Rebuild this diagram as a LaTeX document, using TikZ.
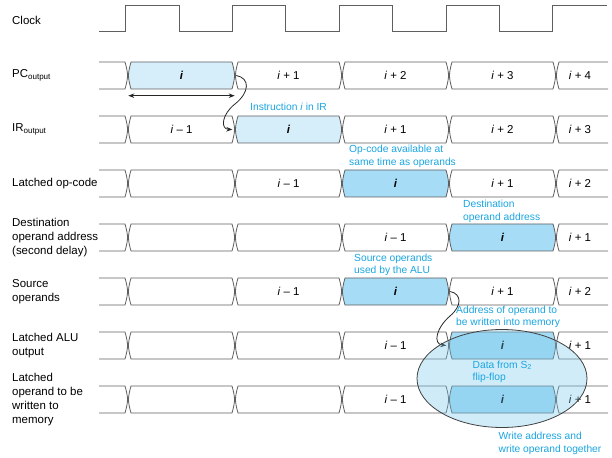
\documentclass[tikz,border=0pt]{standalone}
\usepackage{fontspec}
\setmainfont{Liberation Sans}
\usetikzlibrary{arrows.meta}
\definecolor{linegray}{RGB}{95,95,95}
\definecolor{fetchblue}{RGB}{214,238,250}
\definecolor{stageblue}{RGB}{166,220,245}
\definecolor{noteblue}{RGB}{25,165,225}
\definecolor{ringblue}{RGB}{120,200,235}
\newcommand{\instr}{\textit{i}}
\newcommand{\instrb}{\textbf{\textit{i}}}
% one bus cell: [fill]{name}{left}{right}{top}{text}
\newcommand{\buscell}[6][white]{%
  \filldraw[sigline,fill=#1]
    (#3+2.5,#5) -- (#4-2.5,#5)
    .. controls (#4-0.8,#5+6) and (#4,#5+10) .. (#4,#5+13.5)
    .. controls (#4,#5+17) and (#4-0.8,#5+21) .. (#4-2.5,#5+27)
    -- (#3+2.5,#5+27)
    .. controls (#3+0.8,#5+21) and (#3,#5+17) .. (#3,#5+13.5)
    .. controls (#3,#5+10) and (#3+0.8,#5+6) .. cycle;
  \node[celltext,minimum width={(#4-#3)*1bp}] (#2) at ({(#3+#4)/2},#5+13.5) {#6};
}
\tikzset{
  sigline/.style={draw=linegray,line width=0.8bp},
  celltext/.style={inner sep=0pt,minimum height=27bp,font=\fontsize{11.5}{14}\selectfont},
  rowlabel/.style={anchor=west,align=left,inner sep=0pt,font=\fontsize{11.5}{14.3}\selectfont},
  note/.style={anchor=west,align=left,inner sep=0pt,text=noteblue,font=\fontsize{10.3}{12.7}\selectfont},
  stagearrow/.style={-{Stealth[length=6bp,width=4.5bp]},line width=0.8bp,draw=black!85},
  spanarrow/.style={{Stealth[length=6bp,width=4.5bp]}-{Stealth[length=6bp,width=4.5bp]},line width=0.8bp,draw=black!85},
  ring/.style={draw=black!75,line width=0.8bp,fill=ringblue,fill opacity=0.35}
}

\begin{document}
\begin{tikzpicture}[x=1bp,y=-1bp]
  \useasboundingbox (0,0) rectangle (612,458);

  % row labels
  \node[rowlabel] (clocklbl) at (12,20) {Clock};
  \node[rowlabel] (pclbl) at (12,75.5) {PC\textsubscript{output}};
  \node[rowlabel] (irlbl) at (12,129.5) {IR\textsubscript{output}};
  \node[rowlabel] (oplbl) at (12,183.5) {Latched op-code};
  \node[rowlabel] (dstlbl) at (12,237.5) {Destination\\operand address\\(second delay)};
  \node[rowlabel] (srclbl) at (12,291.5) {Source\\operands};
  \node[rowlabel] (alulbl) at (12,345.5) {Latched ALU\\output};
  \node[rowlabel] (memlbl) at (12,399.5) {Latched\\operand to be\\written to\\memory};

  % clock
  \draw[sigline] (99,31)
    \foreach \k in {0,...,3} {
      -- ({125.5+106.8*\k},31) -- ({125.5+106.8*\k},5)
      -- ({178.9+106.8*\k},5) -- ({178.9+106.8*\k},31)
    }
    -- (552.7,31) -- (552.7,5) -- (607,5);

  % open cells at both ends of each row
  \foreach \r/\t/\txt in {pc/62/{\instr{} + 4}, ir/116/{\instr{} + 3}, op/170/{\instr{} + 2},
      dst/224/{\instr{} + 1}, src/278/{\instr{} + 2}, alu/332/{\instr{} + 1}, mem/386/{\instr{} + 1}} {
    \draw[sigline] (99,\t) -- (125,\t) .. controls (126.7,\t+6) and (127.5,\t+10) .. (127.5,\t+13.5)
      .. controls (127.5,\t+17) and (126.7,\t+21) .. (125,\t+27) -- (99,\t+27);
    \draw[sigline] (608,\t) -- (559,\t) .. controls (557.3,\t+6) and (556.5,\t+10) .. (556.5,\t+13.5)
      .. controls (556.5,\t+17) and (557.3,\t+21) .. (559,\t+27) -- (608,\t+27);
    \node[celltext] (\r6) at (580,\t+13.5) {\txt};
  }

  % PC output
  \buscell[fetchblue]{pc2}{128.5}{234.5}{62}{\instrb}
  \buscell{pc3}{235.5}{341.5}{62}{\instr{} + 1}
  \buscell{pc4}{342.5}{448.5}{62}{\instr{} + 2}
  \buscell{pc5}{449.5}{555.5}{62}{\instr{} + 3}
  % IR output
  \buscell{ir2}{128.5}{234.5}{116}{\instr{} \textendash{} 1}
  \buscell[fetchblue]{ir3}{235.5}{341.5}{116}{\instrb}
  \buscell{ir4}{342.5}{448.5}{116}{\instr{} + 1}
  \buscell{ir5}{449.5}{555.5}{116}{\instr{} + 2}
  % latched op-code
  \buscell{op2}{128.5}{234.5}{170}{}
  \buscell{op3}{235.5}{341.5}{170}{\instr{} \textendash{} 1}
  \buscell[stageblue]{op4}{342.5}{448.5}{170}{\instrb}
  \buscell{op5}{449.5}{555.5}{170}{\instr{} + 1}
  % destination operand address
  \buscell{dst2}{128.5}{234.5}{224}{}
  \buscell{dst3}{235.5}{341.5}{224}{}
  \buscell{dst4}{342.5}{448.5}{224}{\instr{} \textendash{} 1}
  \buscell[stageblue]{dst5}{449.5}{555.5}{224}{\instrb}
  % source operands
  \buscell{src2}{128.5}{234.5}{278}{}
  \buscell{src3}{235.5}{341.5}{278}{\instr{} \textendash{} 1}
  \buscell[stageblue]{src4}{342.5}{448.5}{278}{\instrb}
  \buscell{src5}{449.5}{555.5}{278}{\instr{} + 1}
  % latched ALU output
  \buscell{alu2}{128.5}{234.5}{332}{}
  \buscell{alu3}{235.5}{341.5}{332}{}
  \buscell{alu4}{342.5}{448.5}{332}{\instr{} \textendash{} 1}
  \buscell[stageblue]{alu5}{449.5}{555.5}{332}{\instrb}
  % latched operand to memory
  \buscell{mem2}{128.5}{234.5}{386}{}
  \buscell{mem3}{235.5}{341.5}{386}{}
  \buscell{mem4}{342.5}{448.5}{386}{\instr{} \textendash{} 1}
  \buscell[stageblue]{mem5}{449.5}{555.5}{386}{\instrb}

  \draw[spanarrow] ([yshift=-6.5bp]pc2.south west) -- ([yshift=-6.5bp]pc2.south east);
  \draw[stagearrow] ([xshift=1.5bp]pc2.east) .. controls (250,78) and (250,92) .. (235,104)
    .. controls (222,114) and (220,129) .. ([xshift=-3bp]ir3.west);
  \draw[stagearrow] ([xshift=1.5bp]src4.east) .. controls (462,294) and (462,306) .. (450,316)
    .. controls (437,327) and (432,344) .. ([xshift=-3bp]alu5.west);

  \draw[ring] (502,378.5) ellipse [x radius=85,y radius=49];

  % notes
  \node[note] (irnote) at (250,106.5) {Instruction \textit{i} in IR};
  \node[note] (opnote) at (349,156.5) {Op-code available at\\same time as operands};
  \node[note] (dstnote) at (463,211.5) {Destination\\operand address};
  \node[note] (srcnote) at (354,264.7) {Source operands\\used by the ALU};
  \node[note] (addrnote) at (456,317) {Address of operand to\\be written into memory};
  \node[note] (s2note) at (472.5,372) {Data from S\textsubscript{2}\\flip-flop};
  \node[note] (wrnote) at (498.5,443.5) {Write address and\\write operand together};
\end{tikzpicture}
\end{document}
